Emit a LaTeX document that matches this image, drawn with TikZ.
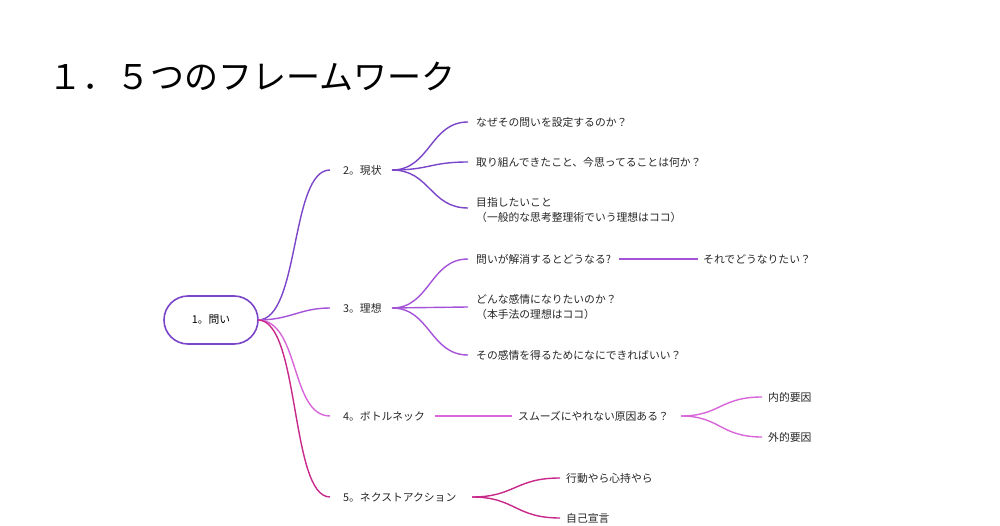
\documentclass[tikz,border=0pt]{standalone}
\usepackage{fontspec}
\setmainfont{Noto Sans CJK JP}
\begin{document}
\begin{tikzpicture}[x=1pt,y=-1pt,
 t/.style={anchor=west,inner sep=0pt,font=\fontsize{10.8}{15.5}\selectfont,text=black!85},
 br/.style={line width=1.4pt},
 cA/.style={draw=c2},cB/.style={draw=c3},cC/.style={draw=c4},cD/.style={draw=c5}]
\definecolor{c2}{HTML}{7A45C8}
\definecolor{c3}{HTML}{A452D8}
\definecolor{c4}{HTML}{D865DA}
\definecolor{c5}{HTML}{C8288A}
\useasboundingbox (0,0) rectangle (1000,526);
\node[anchor=west,inner sep=0pt,font=\fontsize{34}{40}\selectfont] (title) at (48,77) {１．５つのフレームワーク};
\node[draw=c2,line width=1.6pt,rounded corners=24pt,minimum width=94pt,minimum height=48pt,font=\fontsize{10.8}{14}\selectfont] (root) at (211,320) {1。問い};
\coordinate (r) at (258,320);
% level 1
\node[t] (n2) at (343,170) {2。現状};
\node[t] (n3) at (343,308) {3。理想};
\node[t] (n4) at (343,416) {4。ボトルネック};
\node[t] (n5) at (343,497) {5。ネクストアクション};
\coordinate (e2) at (330,170);\coordinate (e3) at (330,308);
\coordinate (e4) at (330,416);\coordinate (e5) at (330,497);
\draw[br,cA] (r) .. controls (300,320) and (290,170) .. (e2);
\draw[br,cB] (r) .. controls (290,320) and (300,308) .. (e3);
\draw[br,cC] (r) .. controls (300,320) and (290,416) .. (e4);
\draw[br,cD] (r) .. controls (300,320) and (290,497) .. (e5);
% level 2 of 2
\coordinate (s2) at (392,170);
\node[t] (a1) at (476,122) {なぜその問いを設定するのか？};
\node[t] (a2) at (476,162) {取り組んできたこと、今思ってることは何か？};
\node[t,align=left] (a3) at (476,210) {目指したいこと\\（一般的な思考整理術でいう理想はココ）};
\foreach \y/\n in {122/1,162/2,208/3}{\coordinate (ea\n) at (468,\y);
 \draw[br,cA] (s2) .. controls (430,170) and (430,\y) .. (ea\n);}
% level 2 of 3
\coordinate (s3) at (392,308);
\node[t] (b1) at (476,259) {問いが解消するとどうなる?};
\node[t,align=left] (b2) at (476,307) {どんな感情になりたいのか？\\（本手法の理想はココ）};
\node[t] (b3) at (476,355) {その感情を得るためになにできればいい？};
\foreach \y/\n in {259/1,307/2,355/3}{\coordinate (eb\n) at (468,\y);
 \draw[br,cB] (s3) .. controls (430,308) and (430,\y) .. (eb\n);}
\node[t] (b1a) at (703,259) {それでどうなりたい？};
\coordinate (bs) at (619,259);\coordinate (be) at (698,259);
\draw[br,cB] (bs) -- (be);
% level 2 of 4
\node[t] (c1) at (518,416) {スムーズにやれない原因ある？};
\coordinate (cs) at (435,416);\coordinate (ce) at (512,416);
\draw[br,cC] (cs) -- (ce);
\coordinate (s4) at (681,416);
\node[t] (c1a) at (768,397) {内的要因};
\node[t] (c1b) at (768,437) {外的要因};
\foreach \y/\n in {397/1,437/2}{\coordinate (ec\n) at (762,\y);
 \draw[br,cC] (s4) .. controls (720,416) and (720,\y) .. (ec\n);}
% level 2 of 5
\coordinate (s5) at (472,497);
\node[t] (d1) at (566,478) {行動やら心持やら};
\node[t] (d2) at (566,518) {自己宣言};
\foreach \y/\n in {478/1,518/2}{\coordinate (ed\n) at (560,\y);
 \draw[br,cD] (s5) .. controls (515,497) and (515,\y) .. (ed\n);}
\end{tikzpicture}
\end{document}
